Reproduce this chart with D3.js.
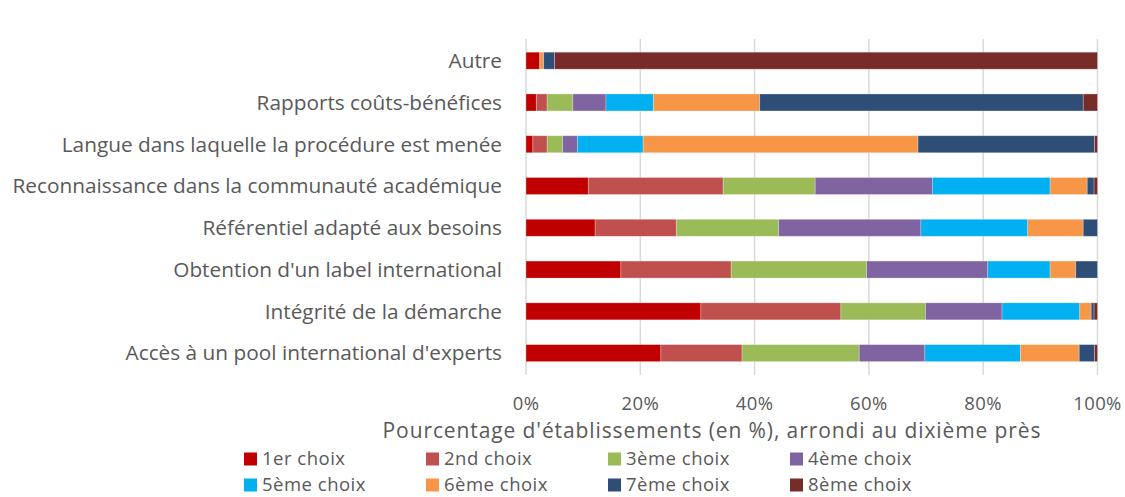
<!DOCTYPE html>
<html>
<head>
<meta charset="utf-8">
<script src="https://cdn.jsdelivr.net/npm/d3@7"></script>
<style>
  body { margin: 0; background: #fff; }
  svg text { font-family: "Open Sans", sans-serif; fill: #595959; }
</style>
</head>
<body>
<svg id="chart" width="1125" height="497"></svg>
<script>
// categories, top to bottom
const categories = [
  'Autre',
  'Rapports coûts-bénéfices',
  'Langue dans laquelle la procédure est menée',
  'Reconnaissance dans la communauté académique',
  'Référentiel adapté aux besoins',
  "Obtention d'un label international",
  'Intégrité de la démarche',
  "Accès à un pool international d'experts"
];

const seriesNames = ['1er choix', '2nd choix', '3ème choix', '4ème choix',
  '5ème choix', '6ème choix', '7ème choix', '8ème choix'];

const seriesColors = ['#C00000', '#C0504D', '#9BBB59', '#8064A2',
  '#00B0F0', '#F79646', '#2E4E78', '#772C2A'];

// percentage per series, same order as categories
const choix1 = [2.4, 1.8, 1.2, 10.9, 12.1, 16.6, 30.6, 23.6];
const choix2 = [0.0, 1.9, 2.5, 23.6, 14.2, 19.3, 24.5, 14.2];
const choix3 = [0.0, 4.5, 2.7, 16.1, 17.9, 23.7, 14.8, 20.5];
const choix4 = [0.0, 5.8, 2.6, 20.5, 24.9, 21.2, 13.4, 11.5];
const choix5 = [0.0, 8.3, 11.5, 20.6, 18.7, 10.9, 13.6, 16.7];
const choix6 = [0.7, 18.6, 48.1, 6.5, 9.7, 4.5, 2.0, 10.3];
const choix7 = [1.9, 56.6, 30.9, 1.2, 2.5, 3.8, 0.5, 2.7];
const choix8 = [95.0, 2.5, 0.5, 0.6, 0.0, 0.0, 0.6, 0.5];

const xTicks = [0, 20, 40, 60, 80, 100];
const axisTitle = "Pourcentage d'établissements (en %), arrondi au dixième près";

const allSeries = [choix1, choix2, choix3, choix4, choix5, choix6, choix7, choix8];
const rows = categories.map((c, i) => {
  const row = { category: c };
  seriesNames.forEach((s, j) => { row[s] = allSeries[j][i]; });
  return row;
});

const svg = d3.select('#chart');

const x = d3.scaleLinear().domain([0, 100]).range([526, 1097.5]);
const y = d3.scalePoint().domain(categories).range([39.8, 374]).padding(0.5);
const barH = 17;

// gridlines
svg.append('g')
  .selectAll('line')
  .data(xTicks)
  .join('line')
    .attr('x1', d => x(d))
    .attr('x2', d => x(d))
    .attr('y1', 39)
    .attr('y2', 375)
    .attr('stroke', '#d9d9d9')
    .attr('stroke-width', 1.5);

const stack = d3.stack().keys(seriesNames)(rows);

svg.append('g')
  .selectAll('g')
  .data(stack)
  .join('g')
    .attr('fill', (d, i) => seriesColors[i])
  .selectAll('rect')
  .data(d => d.filter(p => p[1] - p[0] > 0))
  .join('rect')
    .attr('x', d => x(d[0]))
    .attr('width', d => x(d[1]) - x(d[0]))
    .attr('y', d => y(d.data.category) - barH / 2)
    .attr('height', barH)
    .attr('stroke', '#ffffff')
    .attr('stroke-opacity', 0.35)
    .attr('stroke-width', 0.75);

// category labels
svg.append('g')
  .selectAll('text')
  .data(categories)
  .join('text')
    .attr('x', 502)
    .attr('y', d => y(d))
    .attr('dy', '0.35em')
    .attr('text-anchor', 'end')
    .style('font-size', '20.8px')
    .text(d => d);

// tick labels
svg.append('g')
  .selectAll('text')
  .data(xTicks)
  .join('text')
    .attr('x', d => x(d))
    .attr('y', 404)
    .attr('dy', '0.35em')
    .attr('text-anchor', 'middle')
    .style('font-size', '18.5px')
    .style('letter-spacing', '0.4px')
    .text(d => d + '%');

svg.append('text')
  .attr('x', 712)
  .attr('y', 431)
  .attr('dy', '0.35em')
  .attr('text-anchor', 'middle')
  .style('font-size', '21px')
  .style('letter-spacing', '0.9px')
  .text(axisTitle);

// legend
const legend = svg.append('g')
  .selectAll('g')
  .data(seriesNames)
  .join('g')
    .attr('transform', (d, i) => `translate(${244 + (i % 4) * 182},${459 + Math.floor(i / 4) * 26})`);

legend.append('rect')
  .attr('x', 0)
  .attr('y', -6.5)
  .attr('width', 13)
  .attr('height', 13)
  .attr('fill', (d, i) => seriesColors[i]);

legend.append('text')
  .attr('x', 18)
  .attr('y', 0)
  .attr('dy', '0.35em')
  .style('font-size', '18.5px')
  .style('letter-spacing', '0.5px')
  .text(d => d);
</script>
</body>
</html>
